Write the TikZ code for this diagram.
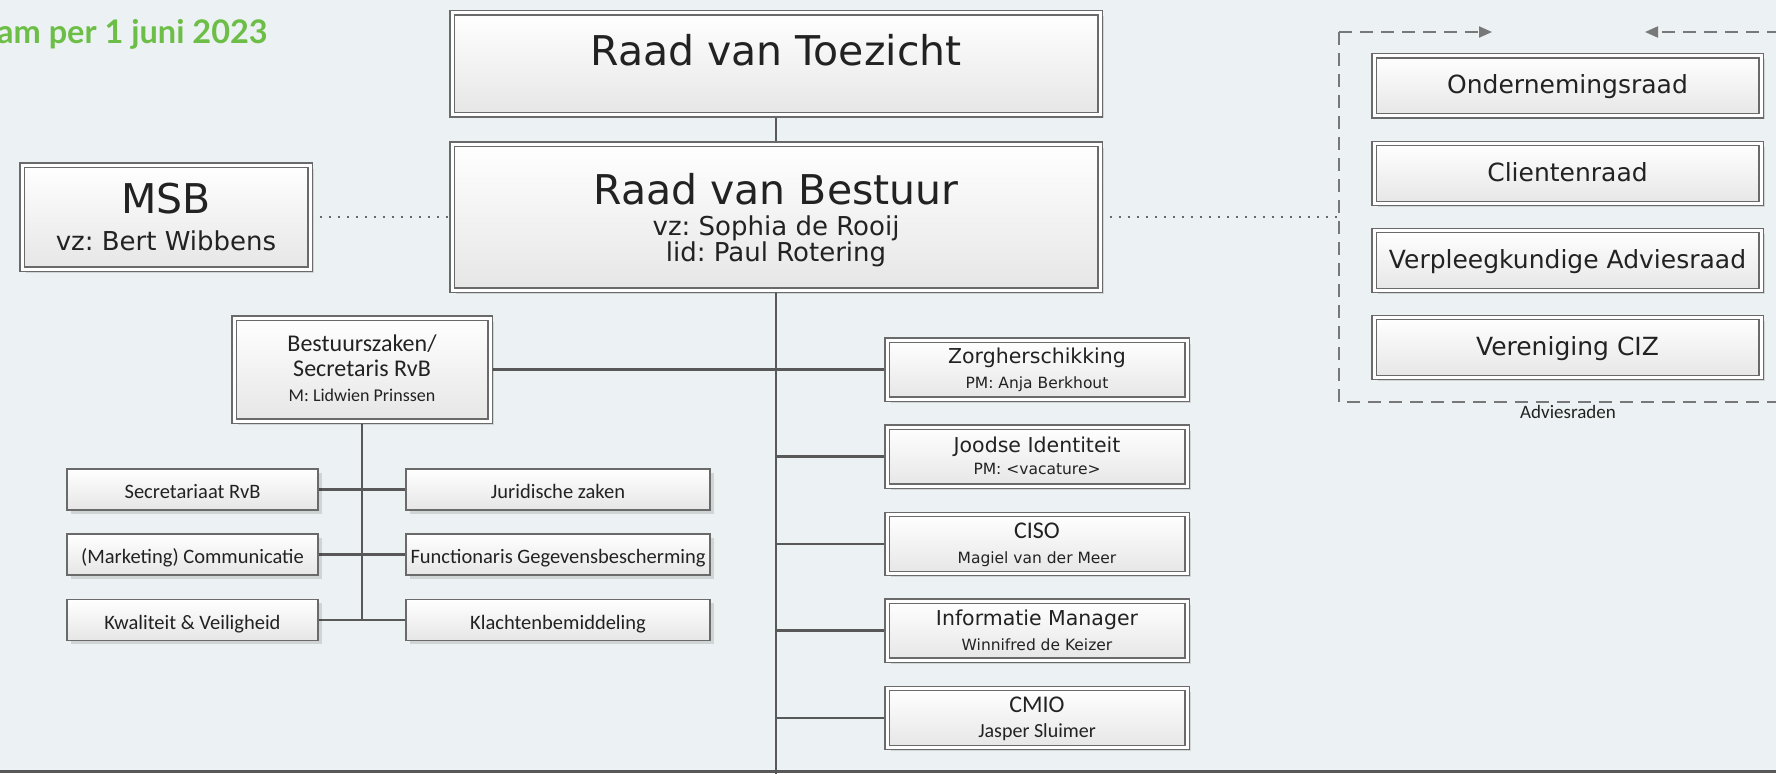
\documentclass[tikz,border=0pt]{standalone}
\usepackage{fontspec}
\setmainfont{DejaVu Sans}
\newfontfamily\calfont{Carlito}
\newfontfamily\latofont{Lato}
\usetikzlibrary{arrows.meta,shadows}
\definecolor{canvas}{RGB}{236,242,243}
\definecolor{frame}{RGB}{106,106,106}
\definecolor{boxbot}{RGB}{230,230,230}
\definecolor{wire}{RGB}{88,88,88}
\definecolor{dotc}{RGB}{105,105,105}
\definecolor{dashc}{RGB}{120,120,120}
\definecolor{titlegreen}{RGB}{108,190,70}
\definecolor{ink}{RGB}{34,34,34}
\newcommand\fsz[1]{\fontsize{#1}{#1}\selectfont}
\frenchspacing
\pgfdeclarelayer{bg}
\pgfsetlayers{bg,main}

\begin{document}
\begin{tikzpicture}[x=1pt,y=-1pt,
  shadowed/.style={drop shadow={shadow xshift=3.5pt,shadow yshift=-3.5pt,fill=black,opacity=0.12}},
  dbox/.style={shadowed,draw=frame,line width=1.4pt,double=white,double distance=3pt,
    top color=white,bottom color=boxbot,inner sep=0pt},
  sbox/.style={shadowed,draw=frame,line width=1.8pt,top color=white,bottom color=boxbot,
    inner sep=0pt,minimum height=41pt},
  leftsub/.style={sbox,minimum width=251pt},
  rightsub/.style={sbox,minimum width=304pt},
  advbox/.style={dbox,minimum width=387pt,minimum height=60pt},
  colbox/.style={dbox,minimum width=300pt,minimum height=59pt},
  lbl/.style={anchor=base,inner sep=0pt,text=ink},
  big/.style={lbl,font=\fsz{41}},
  mid/.style={lbl,font=\fsz{26}},
  advtxt/.style={lbl,font=\fsz{25}},
  coltitle/.style={lbl,font=\fsz{20.5}},
  colsub/.style={lbl,font=\fsz{15.5}},
  caltitle/.style={lbl,font=\calfont\fsz{24}},
  subtxt/.style={lbl,font=\calfont\fsz{20.5}},
  wireline/.style={draw=wire,line width=2.5pt},
  dotline/.style={draw=dotc,line width=2.2pt,dash pattern=on 2.2pt off 6.8pt},
  dashline/.style={draw=dashc,line width=2pt,dash pattern=on 13pt off 8pt},
  tip/.style={-{Triangle[length=13pt,width=11pt]}}
]
\useasboundingbox (0,0) rectangle (1776,773);

% title
\node[anchor=base east,inner sep=0pt,text=titlegreen,font=\latofont\bfseries\fsz{32.5}]
  (title) at (268,44) {am per 1 juni 2023};

% top of the organisation
\node[dbox,minimum width=648pt,minimum height=102pt] (rvt) at (776,64) {};
\node[big] (rvt-t) at (776,66) {Raad van Toezicht};

\node[dbox,minimum width=648pt,minimum height=146pt] (rvb) at (776,217) {};
\node[big] (rvb-t) at (776,204) {Raad van Bestuur};
\node[mid] (rvb-vz) at (776,235) {vz: Sophia de Rooij};
\node[mid] (rvb-lid) at (776,261) {lid: Paul Rotering};

\node[dbox,minimum width=288pt,minimum height=104pt] (msb) at (166,217) {};
\node[big] (msb-t) at (166,213) {MSB};
\node[mid] (msb-vz) at (166,250) {vz: Bert Wibbens};

% advisory councils
\node[advbox] (or) at (1567.5,86) {};
\node[advtxt] (or-t) at (1567.5,94) {Ondernemingsraad};
\node[advbox] (cr) at (1567.5,173.5) {};
\node[advtxt] (cr-t) at (1567.5,181.5) {Clientenraad};
\node[advbox] (var) at (1567.5,260.5) {};
\node[advtxt] (var-t) at (1567.5,268.5) {Verpleegkundige Adviesraad};
\node[advbox] (ciz) at (1567.5,347.5) {};
\node[advtxt] (ciz-t) at (1567.5,355.5) {Vereniging CIZ};
\node[lbl,font=\calfont\fsz{19}] (adv-label) at (1568,418) {Adviesraden};

\coordinate (adv-tl) at (1339,32);
\coordinate (adv-bl) at (1339,402);
\coordinate (adv-br) at (1780,402);
\coordinate (adv-tr) at (1780,32);
\coordinate (adv-in) at (1492,32);
\coordinate (adv-out) at (1645,32);
\coordinate (adv-link) at (1339,217);

% board affairs
\node[dbox,minimum width=256pt,minimum height=103pt] (bz) at (362,369.5) {};
\node[caltitle] (bz-t1) at (362,351) {Bestuurszaken/};
\node[caltitle] (bz-t2) at (362,376) {Secretaris RvB};
\node[lbl,font=\calfont\fsz{18}] (bz-m) at (362,401) {M: Lidwien Prinssen};

\node[leftsub] (secr) at (192.5,489.5) {};
\node[subtxt] (secr-t) at (192.5,498.5) {Secretariaat RvB};
\node[leftsub] (mark) at (192.5,554.5) {};
\node[subtxt] (mark-t) at (192.5,563.5) {(Marketing) Communicatie};
\node[leftsub] (kwal) at (192.5,620) {};
\node[subtxt] (kwal-t) at (192.5,629) {Kwaliteit \& Veiligheid};

\node[rightsub] (jur) at (558,489.5) {};
\node[subtxt] (jur-t) at (558,498.5) {Juridische zaken};
\node[rightsub] (fg) at (558,554.5) {};
\node[subtxt] (fg-t) at (558,563.5) {Functionaris Gegevensbescherming};
\node[rightsub] (kl) at (558,620) {};
\node[subtxt] (kl-t) at (558,629) {Klachtenbemiddeling};

% staff column
\node[colbox] (zorg) at (1037,369.5) {};
\node[coltitle] (zorg-t) at (1037,363) {Zorgherschikking};
\node[colsub] (zorg-s) at (1037,388) {PM: Anja Berkhout};
\node[colbox] (jood) at (1037,456.5) {};
\node[coltitle] (jood-t) at (1037,452) {Joodse Identiteit};
\node[colsub] (jood-s) at (1037,474) {PM: <vacature>};
\node[colbox] (ciso) at (1037,544) {};
\node[caltitle] (ciso-t) at (1037,538) {CISO};
\node[colsub] (ciso-s) at (1037,563) {Magiel van der Meer};
\node[colbox] (im) at (1037,630.5) {};
\node[coltitle] (im-t) at (1037,625) {Informatie Manager};
\node[colsub] (im-s) at (1037,650) {Winnifred de Keizer};
\node[colbox] (cmio) at (1037,718) {};
\node[caltitle] (cmio-t) at (1037,712) {CMIO};
\node[lbl,font=\calfont\fsz{20}] (cmio-s) at (1037,737) {Jasper Sluimer};

\coordinate (trunk-end) at (776,780);
\coordinate (base-l) at (0,771.5);
\coordinate (base-r) at (1776,771.5);

\begin{pgfonlayer}{bg}
  \fill[canvas] (0,0) rectangle (1776,773);
  % reporting lines
  \draw[wireline] (rvt.south) -- (rvb.north);
  \draw[wireline] (rvb.south) -- (trunk-end);
  \draw[wireline] (bz.east) -- (zorg.west);
  \foreach \b in {jood,ciso,im,cmio}
    \draw[wireline] (rvb.south |- \b.west) -- (\b.west);
  \draw[wireline] (bz.south) -- (bz.south |- kwal.east);
  \draw[wireline] (secr.east) -- (jur.west);
  \draw[wireline] (mark.east) -- (fg.west);
  \draw[wireline] (kwal.east) -- (kl.west);
  \draw[draw=wire,line width=3pt] (base-l) -- (base-r);
  % advisory links
  \draw[dotline] (msb.east) -- (rvb.west);
  \draw[dotline] (rvb.east) -- (adv-link);
  \draw[dashline] (adv-tl) -- (adv-bl) -- (adv-br);
  \draw[dashline,tip] (adv-tl) -- (adv-in);
  \draw[dashline,tip] (adv-tr) -- (adv-out);
\end{pgfonlayer}
\end{tikzpicture}
\end{document}
